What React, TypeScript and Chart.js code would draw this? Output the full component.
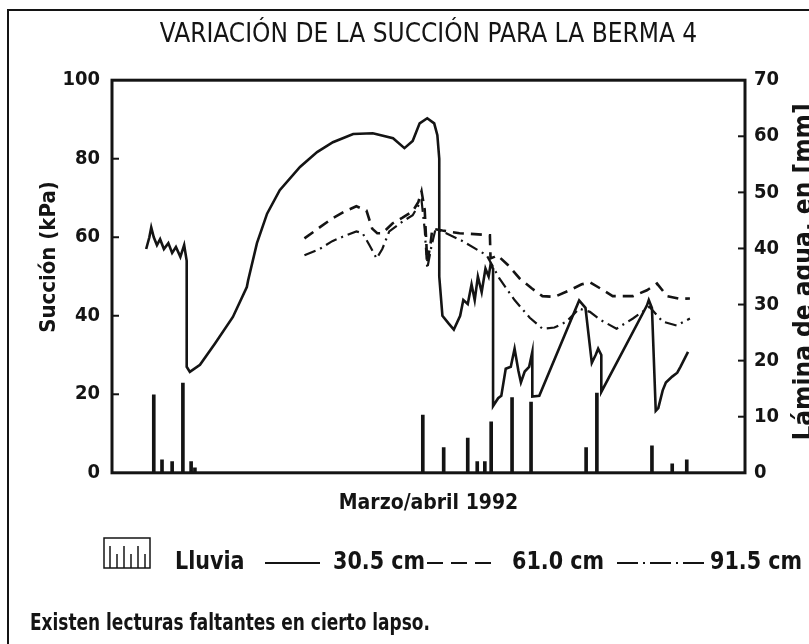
import React, { useEffect, useRef } from "react";
import { Chart, registerables } from "chart.js";

Chart.register(...registerables);

const FONT = "'Liberation Sans Narrow', 'Arial Narrow', 'DejaVu Sans Condensed', sans-serif";
const INK = "#141414";

const TITLE = "VARIACIÓN DE LA SUCCIÓN PARA LA BERMA 4";
const X_TITLE = "Marzo/abril 1992";
const Y_LEFT_TITLE = "Succión (kPa)";
const Y_RIGHT_TITLE = "Lámina de agua, en [mm]";
const NOTE = "Existen lecturas faltantes en cierto lapso.";
const SERIES_LABELS = ["Lluvia", "30.5 cm", "61.0 cm", "91.5 cm"];

const LEFT_MAX = 100;
const LEFT_STEP = 20;
const RIGHT_MAX = 70;
const RIGHT_STEP = 10;

// x: position along the March/April 1992 period (0-100 of the axis length)
const rainX = [6.6, 7.9, 9.5, 11.2, 12.5, 13.1, 49.1, 52.4, 56.2, 57.7, 58.9, 59.9, 63.2, 66.2, 74.9, 76.6, 85.3, 88.5, 90.8];
const rainMm = [13.9, 2.3, 2.0, 16.0, 2.0, 0.9, 10.3, 4.5, 6.2, 2.0, 2.0, 9.1, 13.4, 12.6, 4.5, 14.2, 4.8, 1.6, 2.3];

const s30X = [5.4, 5.9, 6.2, 6.6, 7.1, 7.6, 8.2, 8.9, 9.5, 10.1, 10.8, 11.4, 11.8, 11.8, 12.3, 13.9, 16.3, 19.1, 21.3, 21.5, 22.9, 24.5, 26.5, 29.7, 32.4, 34.9, 38.1, 41.2, 44.4, 46.2, 47.5, 48.6, 49.8, 50.9, 51.4, 51.7, 51.7, 52.2, 53.2, 54.0, 55.0, 55.5, 56.2, 56.8, 57.3, 57.8, 58.4, 59.0, 59.5, 59.8, 60.2, 60.2, 61.0, 61.5, 62.2, 63.0, 63.6, 64.2, 64.6, 65.2, 65.9, 66.4, 66.4, 67.5, 73.8, 74.8, 75.3, 75.8, 76.4, 76.8, 77.3, 77.3, 84.5, 84.8, 85.3, 85.9, 86.3, 87.0, 87.5, 88.5, 89.3, 89.8, 91.0];
const s30Kpa = [57, 60, 62.5, 60, 58, 59.5, 57, 58.5, 56, 57.5, 55, 58, 54, 27, 25.7, 27.5, 33, 39.7, 47.3, 49, 58.5, 66, 72, 77.9, 81.7, 84.2, 86.3, 86.5, 85.2, 82.7, 84.5, 89, 90.3, 89, 86, 80, 50, 40, 38, 36.5, 40, 44, 43, 48, 44, 50, 46, 52, 50, 53, 52, 17, 19, 19.6, 26.5, 27, 31.6, 26, 23, 25.8, 27, 30.8, 19.4, 19.6, 43.9, 42, 35, 28, 30, 31.6, 30, 20.6, 42.6, 44, 42, 15.8, 16.5, 21, 23, 24.5, 25.5, 27, 30.8];

const s61X = [30.4, 32.8, 34.8, 36.7, 38.6, 40.2, 41.1, 41.9, 42.7, 44.3, 45.9, 47.5, 48.4, 48.9, 49.4, 49.8, 50.3, 50.6, 52.2, 54.9, 57.3, 59.7, 59.8, 60.4, 60.9, 62.5, 64.4, 66.3, 68.0, 69.9, 72.3, 74.2, 75.5, 77.1, 79.1, 82.3, 84.5, 86.1, 87.7, 89.7, 91.3];
const s61Kpa = [59.7, 62.5, 64.8, 66.5, 67.9, 66.8, 62.2, 61, 61, 63.5, 65, 66.6, 69, 71.7, 67, 53.8, 58, 62.2, 61.7, 61, 60.8, 60.5, 54.6, 55, 55.4, 53, 49.5, 47, 45, 44.8, 46.5, 48, 48.5, 47, 45, 45, 46.5, 48.2, 45, 44.3, 44.4];

const s91X = [30.4, 32.8, 34.8, 36.7, 38.6, 39.6, 40.7, 41.8, 42.7, 43.8, 45.9, 47.5, 48.9, 49.4, 49.8, 50.5, 51.1, 52.2, 55.4, 59.2, 61.2, 63.6, 66.0, 68.0, 69.9, 71.8, 73.8, 75.5, 77.1, 79.7, 82.3, 84.9, 87.0, 89.2, 91.3];
const s91Kpa = [55.4, 57, 59, 60.3, 61.5, 61, 57.9, 54.6, 57, 61.5, 64, 65.6, 69.4, 62, 52, 58, 62, 61.5, 59, 55.4, 49.5, 44, 39.5, 36.7, 37, 38.5, 41.8, 41, 39, 36.7, 39.3, 42.3, 38.5, 37.5, 39.3];

const pts = (xs: number[], ys: number[]) => xs.map((x, i) => ({ x, y: ys[i] }));

const framePlugin = {
  id: "frameAndTicks",
  afterDraw(chart: any) {
    const { ctx, chartArea, scales } = chart;
    const { left, right, top, bottom } = chartArea;
    ctx.save();
    ctx.strokeStyle = INK;
    ctx.lineWidth = 3;
    ctx.strokeRect(left, top, right - left, bottom - top);
    ctx.lineWidth = 2;
    for (let v = LEFT_STEP; v < LEFT_MAX; v += LEFT_STEP) {
      const y = scales.y.getPixelForValue(v);
      ctx.beginPath();
      ctx.moveTo(left, y);
      ctx.lineTo(left + 7, y);
      ctx.stroke();
    }
    for (let v = RIGHT_STEP; v < RIGHT_MAX; v += RIGHT_STEP) {
      const y = scales.y1.getPixelForValue(v);
      ctx.beginPath();
      ctx.moveTo(right - 7, y);
      ctx.lineTo(right, y);
      ctx.stroke();
    }
    ctx.fillStyle = INK;
    ctx.textAlign = "center";
    ctx.textBaseline = "alphabetic";
    // left axis title (reads bottom to top)
    ctx.save();
    ctx.font = `bold 22px ${FONT}`;
    ctx.translate(55, 257);
    ctx.rotate(-Math.PI / 2);
    ctx.fillText(Y_LEFT_TITLE, 0, 0);
    ctx.restore();
    // right axis title (reads bottom to top, partly cut by the frame edge)
    ctx.save();
    ctx.font = `bold 26px ${FONT}`;
    ctx.translate(812, 272);
    ctx.rotate(-Math.PI / 2);
    ctx.fillText(Y_RIGHT_TITLE, 0, 0);
    ctx.restore();
    ctx.restore();
  },
};

const textStyle = (left: number, top: number, size: number, sx: number): React.CSSProperties => ({
  position: "absolute",
  left,
  top,
  fontFamily: FONT,
  fontWeight: "bold",
  fontSize: size,
  lineHeight: "28px",
  color: INK,
  whiteSpace: "nowrap",
  transform: `scaleX(${sx})`,
  transformOrigin: "left center",
});

export default function App() {
  const ref = useRef<HTMLCanvasElement | null>(null);

  useEffect(() => {
    if (!ref.current) return;
    const chart = new Chart(ref.current, {
      data: {
        datasets: [
          {
            type: "bar",
            label: SERIES_LABELS[0],
            data: pts(rainX, rainMm),
            yAxisID: "y1",
            backgroundColor: INK,
            barThickness: 3,
            grouped: false,
          } as any,
          {
            type: "line",
            label: SERIES_LABELS[1],
            data: pts(s30X, s30Kpa),
            yAxisID: "y",
            borderColor: INK,
            borderWidth: 2.6,
            pointRadius: 0,
            tension: 0,
          },
          {
            type: "line",
            label: SERIES_LABELS[2],
            data: pts(s61X, s61Kpa),
            yAxisID: "y",
            borderColor: INK,
            borderWidth: 2.6,
            borderDash: [11, 7],
            pointRadius: 0,
            tension: 0,
          },
          {
            type: "line",
            label: SERIES_LABELS[3],
            data: pts(s91X, s91Kpa),
            yAxisID: "y",
            borderColor: INK,
            borderWidth: 2.2,
            borderDash: [12, 5, 2, 5],
            pointRadius: 0,
            tension: 0,
          },
        ],
      },
      options: {
        responsive: false,
        animation: false,
        layout: { padding: { left: 0, right: 0, top: 0, bottom: 128 } },
        plugins: {
          legend: { display: false },
          tooltip: { enabled: false },
          title: {
            display: true,
            fullSize: false,
            text: TITLE,
            color: INK,
            font: { family: FONT, size: 26, weight: "normal" },
            padding: { top: 20, bottom: 29 },
          },
        },
        scales: {
          x: {
            type: "linear",
            min: 0,
            max: 100,
            offset: false,
            grid: { display: false, drawTicks: false },
            border: { display: false },
            ticks: { display: false },
            title: {
              display: true,
              text: X_TITLE,
              color: INK,
              font: { family: FONT, size: 21, weight: "bold" },
              padding: { top: 18, bottom: 0 },
            },
          },
          y: {
            position: "left",
            min: 0,
            max: LEFT_MAX,
            grid: { display: false, drawTicks: false },
            border: { display: false },
            ticks: {
              stepSize: LEFT_STEP,
              color: INK,
              padding: 12,
              font: { family: FONT, size: 20, weight: "bold" },
            },
            afterFit: (s: any) => {
              s.width = 112;
            },
          },
          y1: {
            position: "right",
            min: 0,
            max: RIGHT_MAX,
            grid: { display: false, drawTicks: false },
            border: { display: false },
            ticks: {
              stepSize: RIGHT_STEP,
              color: INK,
              padding: 9,
              font: { family: FONT, size: 20, weight: "bold" },
            },
            afterFit: (s: any) => {
              s.width = 64;
            },
          },
        },
      },
      plugins: [framePlugin],
    } as any);
    return () => chart.destroy();
  }, []);

  return (
    <div style={{ position: "absolute", left: 0, top: 0, width: 809, height: 644, background: "#fff", overflow: "hidden" }}>
      <canvas ref={ref} width={809} height={644} style={{ position: "absolute", left: 0, top: 0 }} />
      <div style={{ position: "absolute", left: 7, top: 9, width: 900, height: 800, borderLeft: `2px solid ${INK}`, borderTop: `2px solid ${INK}` }} />
      <svg style={{ position: "absolute", left: 0, top: 530 }} width={809} height={45}>
        <rect x={104} y={8} width={46} height={30} fill="none" stroke={INK} strokeWidth={1.5} />
        {[0, 1, 2, 3, 4, 5].map((i) => (
          <line key={i} x1={110 + i * 7} x2={110 + i * 7} y1={38} y2={i % 2 === 0 ? 16 : 24} stroke={INK} strokeWidth={1.5} />
        ))}
        <line x1={265} x2={320} y1={33} y2={33} stroke={INK} strokeWidth={2} />
        <line x1={427} x2={493} y1={33} y2={33} stroke={INK} strokeWidth={2} strokeDasharray="16 8" />
        <line x1={617} x2={704} y1={33} y2={33} stroke={INK} strokeWidth={2} strokeDasharray="21 5 2 5" />
      </svg>
      <span style={textStyle(175, 547, 25, 0.92)}>{SERIES_LABELS[0]}</span>
      <span style={textStyle(333, 547, 25, 0.92)}>{SERIES_LABELS[1]}</span>
      <span style={textStyle(512, 547, 25, 0.92)}>{SERIES_LABELS[2]}</span>
      <span style={textStyle(710, 547, 25, 0.92)}>{SERIES_LABELS[3]}</span>
      <span style={textStyle(30, 608, 23, 0.82)}>{NOTE}</span>
    </div>
  );
}
